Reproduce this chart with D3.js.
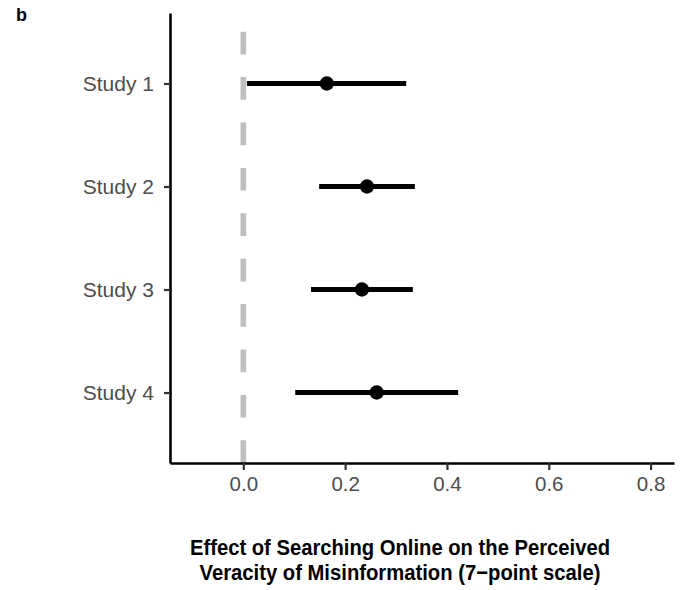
<!DOCTYPE html>
<html>
<head>
<meta charset="utf-8">
<script src="https://cdn.jsdelivr.net/npm/d3@7"></script>
<style>
  body { margin: 0; background: #fff; }
  text { font-family: "Liberation Sans", Arial, Helvetica, sans-serif; }
</style>
</head>
<body>
<div id="chart"></div>
<script>
// Study estimates with confidence intervals
const studies = ["Study 1", "Study 2", "Study 3", "Study 4"];
const estimates = [0.164, 0.243, 0.233, 0.262];
const lowers = [0.007, 0.149, 0.133, 0.102];
const uppers = [0.320, 0.337, 0.333, 0.422];
const xTicks = [0.0, 0.2, 0.4, 0.6, 0.8];
const titleLines = ["Effect of Searching Online on the Perceived",
                    "Veracity of Misinformation (7\u2212point scale)"];

const data = studies.map((s, i) => ({
  study: s, est: estimates[i], lo: lowers[i], hi: uppers[i]
}));

const W = 686, H = 590;
const margin = {top: 13, right: 12, bottom: 127, left: 170};
const width = W - margin.left - margin.right;
const height = H - margin.top - margin.bottom;

const svg = d3.select("#chart")
    .append("svg")
    .attr("width", W)
    .attr("height", H)
    .append("g")
    .attr("transform", `translate(${margin.left}, ${margin.top})`);

// Scales
const x = d3.scaleLinear()
    .domain([-0.144, 0.846])
    .range([0, width]);

const y = d3.scalePoint()
    .domain(studies)
    .range([0, height])
    .padding(0.684);

// Reference line at zero (dash pattern starts from the bottom)
svg.append("line")
    .attr("x1", x(0))
    .attr("x2", x(0))
    .attr("y1", height)
    .attr("y2", 0)
    .attr("stroke", "#bfbfbf")
    .attr("stroke-width", 5.6)
    .attr("stroke-dasharray", "22.7,22.7");

// Confidence intervals
svg.selectAll(".ci")
    .data(data)
    .enter()
    .append("line")
    .attr("class", "ci")
    .attr("x1", d => x(d.lo))
    .attr("x2", d => x(d.hi))
    .attr("y1", d => y(d.study))
    .attr("y2", d => y(d.study))
    .attr("stroke", "black")
    .attr("stroke-width", 5);

// Point estimates
svg.selectAll(".pt")
    .data(data)
    .enter()
    .append("circle")
    .attr("class", "pt")
    .attr("cx", d => x(d.est))
    .attr("cy", d => y(d.study))
    .attr("r", 7.2)
    .attr("fill", "black");

// X axis
const xAxis = svg.append("g")
    .attr("transform", `translate(0, ${height})`)
    .call(d3.axisBottom(x).tickValues(xTicks).tickFormat(d3.format(".1f")).tickSizeInner(7).tickSizeOuter(0));

// Y axis
const yAxis = svg.append("g")
    .call(d3.axisLeft(y).tickSizeInner(6).tickSizeOuter(0));

[xAxis, yAxis].forEach(ax => {
  ax.select(".domain").attr("stroke", "black").attr("stroke-width", 2.6);
  ax.selectAll(".tick line").attr("stroke", "#333").attr("stroke-width", 2.2);
  ax.selectAll(".tick text")
      .attr("fill", "#4d4d4d")
      .style("font-family", "'Liberation Sans', Arial, sans-serif");
});
xAxis.selectAll(".tick text").style("font-size", "20.5px").attr("y", 13).attr("dy", "0.71em");
yAxis.selectAll(".tick text").style("font-size", "21px").attr("x", -16).attr("dy", "0.35em");

// X axis title (squeezed a bit to match the narrower original face)
const titleWidths = [420, 401];
svg.append("g")
    .selectAll("text")
    .data(titleLines)
    .enter()
    .append("text")
    .attr("x", 400 - margin.left)
    .attr("y", (d, i) => 555 - margin.top + i * 25)
    .attr("text-anchor", "middle")
    .attr("textLength", (d, i) => titleWidths[i])
    .attr("lengthAdjust", "spacingAndGlyphs")
    .style("font-size", "22.5px")
    .style("font-weight", "bold")
    .attr("fill", "black")
    .text(d => d);

// Panel tag
svg.append("text")
    .attr("x", 16 - margin.left)
    .attr("y", 21 - margin.top)
    .style("font-size", "18px")
    .style("font-weight", "bold")
    .text("b");
</script>
</body>
</html>
